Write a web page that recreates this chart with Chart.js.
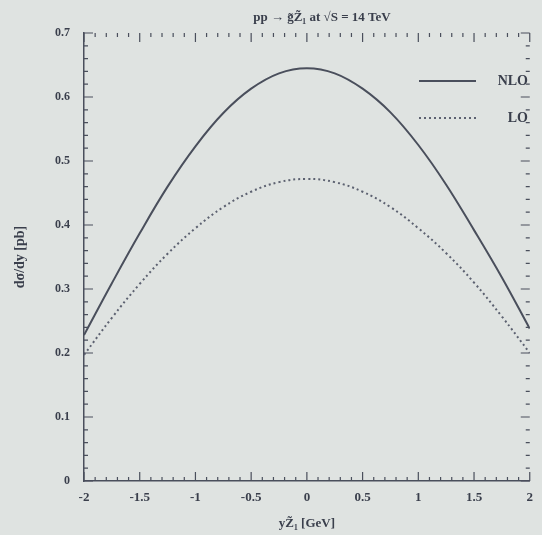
<!DOCTYPE html>
<html>
<head>
<meta charset="utf-8">
<script src="https://cdn.jsdelivr.net/npm/chart.js@4.4.0/dist/chart.umd.min.js"></script>
<style>
html,body{margin:0;padding:0;background:#dfe3e1;}
#wrap{width:542px;height:535px;}
</style>
</head>
<body>
<div id="wrap"><canvas id="c" width="542" height="535"></canvas></div>
<script>
// values (rapidity of the neutralino)
var rapidity=[-2,-1.75,-1.5,-1.25,-1,-0.75,-0.5,-0.25,0,0.25,0.5,0.75,1,1.25,1.5,1.75,2];
var nlo=[0.228,0.309,0.387,0.460,0.523,0.575,0.613,0.637,0.645,0.637,0.613,0.576,0.525,0.463,0.392,0.318,0.238];
var lo=[0.197,0.255,0.308,0.355,0.395,0.428,0.452,0.467,0.472,0.467,0.452,0.428,0.395,0.356,0.310,0.257,0.200];
var xTicks=[-2,-1.5,-1,-0.5,0,0.5,1,1.5,2];
var yTicks=[0,0.1,0.2,0.3,0.4,0.5,0.6,0.7];

var ink='#4a4f5c';
var textInk='#3a3f4c';
var serif="'Liberation Serif','DejaVu Serif',serif";

function pts(ys){
	var out=[];
	for (var i=0;i<rapidity.length;i++) { out.push({x:rapidity[i],y:ys[i]}); }
	return out;
}

// ticks on all four sides, title, legend
var framePlugin={
	id:'frame',
	afterDraw:function(chart){
		var ctx=chart.ctx, a=chart.chartArea;
		var sx=chart.scales.x, sy=chart.scales.y;
		ctx.save();
		ctx.strokeStyle=ink;
		ctx.lineWidth=1.2;
		var i,p,len;
		for (i=0;i<=40;i++) {
			p=sx.getPixelForValue(-2+i*0.1);
			len=(i%5==0)?9:4;
			ctx.beginPath();
			ctx.moveTo(p,a.bottom);ctx.lineTo(p,a.bottom-len);
			ctx.moveTo(p,a.top);ctx.lineTo(p,a.top+len);
			ctx.stroke();
		}
		for (i=0;i<=35;i++) {
			p=sy.getPixelForValue(i*0.02);
			len=(i%5==0)?9:4;
			ctx.beginPath();
			ctx.moveTo(a.left,p);ctx.lineTo(a.left+len,p);
			ctx.moveTo(a.right,p);ctx.lineTo(a.right-len,p);
			ctx.stroke();
		}
		// title
		ctx.fillStyle=textInk;
		ctx.font='bold 13px '+serif;
		ctx.textAlign='center';
		ctx.textBaseline='middle';
		ctx.fillText('pp \u2192 g\u0303Z\u0303\u2081 at \u221AS = 14 TeV',322,18);
		// legend
		var rows=[81,118];
		chart.data.datasets.forEach(function(ds,k){
			var ly=rows[k];
			ctx.strokeStyle=ds.borderColor;
			ctx.lineWidth=ds.borderWidth;
			ctx.setLineDash(ds.borderDash||[]);
			ctx.beginPath();ctx.moveTo(419,ly);ctx.lineTo(476,ly);ctx.stroke();
			ctx.setLineDash([]);
			ctx.fillStyle=textInk;
			ctx.font='bold 14px '+serif;
			ctx.textAlign='right';
			ctx.fillText(ds.label,528,ly);
		});
		ctx.restore();
	}
};

new Chart(document.getElementById('c'),{
	type:'line',
	data:{
		datasets:[
			{label:'NLO',data:pts(nlo),borderColor:'#4a4f5c',borderWidth:2,pointRadius:0,tension:0.4,fill:false},
			{label:'LO',data:pts(lo),borderColor:'#5c6170',borderWidth:2,borderDash:[2,3],pointRadius:0,tension:0.4,fill:false}
		]
	},
	options:{
		responsive:false,
		animation:false,
		layout:{padding:{top:33,right:10,left:0,bottom:0}},
		plugins:{legend:{display:false},tooltip:{enabled:false}},
		scales:{
			x:{
				type:'linear',min:-2,max:2,
				afterFit:function(s){s.height=54;},
				afterBuildTicks:function(s){s.ticks=xTicks.map(function(v){return {value:v};});},
				grid:{display:true,drawOnChartArea:false,drawTicks:false},
				border:{color:ink,width:1.5},
				ticks:{padding:9,color:textInk,font:{family:serif,size:13,weight:'bold'},maxRotation:0,
					callback:function(v){return String(v);}},
				title:{display:true,text:'yZ\u0303\u2081 [GeV]',color:textInk,font:{family:serif,size:13,weight:'bold'},padding:{top:4}}
			},
			y:{
				min:0,max:0.7,
				afterFit:function(s){s.width=84;},
				afterBuildTicks:function(s){s.ticks=yTicks.map(function(v){return {value:v};});},
				grid:{display:true,drawOnChartArea:false,drawTicks:false},
				border:{color:ink,width:1.5},
				ticks:{padding:14,color:textInk,font:{family:serif,size:12,weight:'bold'},
					callback:function(v){return v==0?'0':v.toFixed(1);}},
				title:{display:true,text:'d\u03c3/dy [pb]',color:textInk,font:{family:serif,size:14,weight:'bold'},padding:{top:12,bottom:4}}
			}
		}
	},
	plugins:[framePlugin]
});
</script>
</body>
</html>
